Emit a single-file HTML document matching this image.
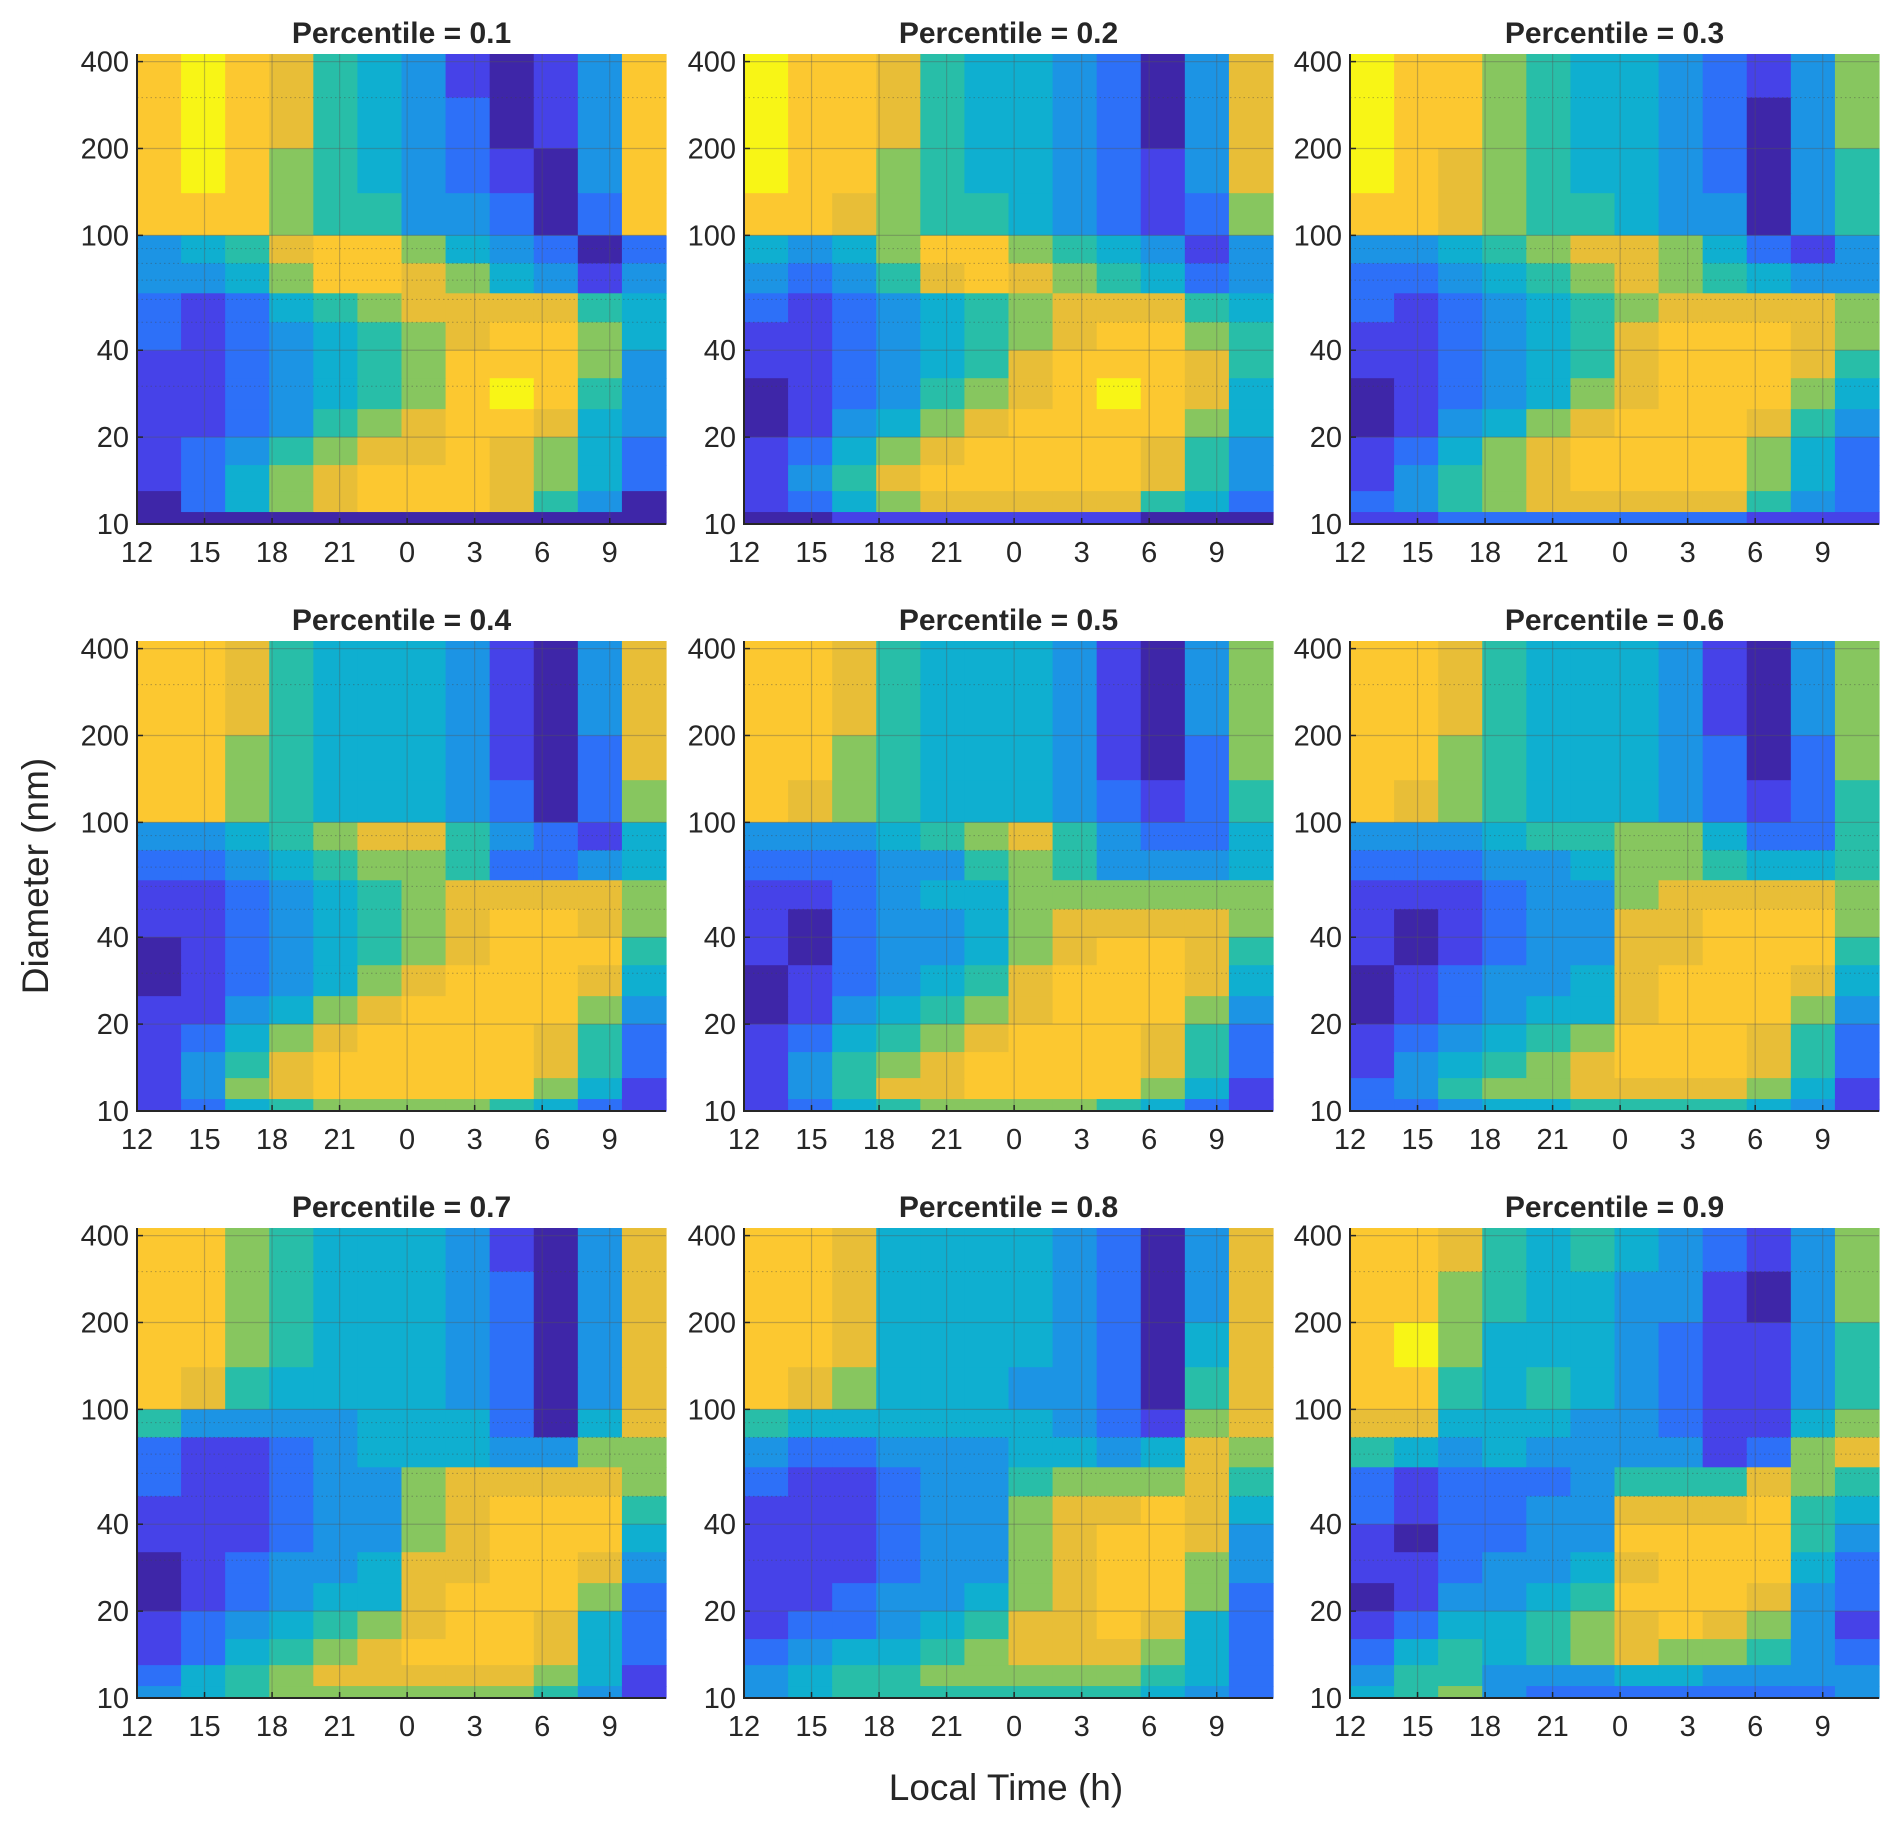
<!DOCTYPE html>
<html><head><meta charset="utf-8"><style>
body{margin:0;background:#fff;width:1892px;height:1828px;overflow:hidden}
svg{display:block}
text{font-family:"Liberation Sans",Arial,sans-serif;fill:#262626}
</style></head><body>
<svg id="fig" width="1892" height="1828"></svg>
<script>
// ---- data ----
const titles = ["Percentile = 0.1","Percentile = 0.2","Percentile = 0.3","Percentile = 0.4","Percentile = 0.5","Percentile = 0.6","Percentile = 0.7","Percentile = 0.8","Percentile = 0.9"];
const diameterEdges = [425,300,200,140,100,80,63,50,40,32,25,20,16,13,11,10];
const timeStart = 12, timeEnd = 35.5;
const xTickValues = [12,15,18,21,24,27,30,33];
const xTickLabels = ["12","15","18","21","0","3","6","9"];
const yTickValues = [10,20,40,100,200,400];
const yTickLabels = ["10","20","40","100","200","400"];
const yMinorValues = [30,50,60,70,80,90,300];
const p01 = ["898754310138","898754320138","898654321038","888655332028","345788643202","334688764313","212456777754","212345678864","112345688863","112345689853","112356788743","123567787642","124678887642","024678887530","000000000000"];
const p02 = ["988754432037","988754432037","988654432137","887655432126","434688654313","323578765423","212345677754","112345678865","112345788875","012356789874","013467888864","124678888753","135788888753","124677777542","001111111000"];
const p03 = ["988654432136","988654432036","987654432035","887655433035","334567764213","223456765433","212345677776","112345788876","112345788875","012346788864","013467888753","124678888642","135678888642","235677777532","112222222111"];
const p04 = ["887544431037","887544431037","886544431027","886544432026","334567753214","223456652234","112345677776","112345678876","012345678885","012346788874","113467888863","124678888752","135788888752","136788888641","124566665421"];
const p05 = ["887544431036","887544431036","886544431026","876544432125","333456753224","222335653334","112344666666","102334677776","102334678875","012345788874","013456788863","124567888752","135678888752","135778888641","124566665421"];
const p06 = ["887544431036","887544431036","886544432026","876544432125","333455664225","222334665445","111233677776","101233778886","101233778885","012334788874","012344788863","123456888752","134567888752","235667777641","223445555431"];
const p07 = ["886544431037","886544432037","886544432037","875444432037","533334442047","211234443366","211233677776","111233678885","111233678884","012334778873","012344788862","123456788742","124567888742","245677777641","345666666531"];
const p08 = ["887444432037","887444432037","887444432047","876444332057","544444432167","322333443476","211233566675","111233677874","111233678873","111233678863","112334678862","122345778742","234456777642","345566666542","345555555432"];
const p09 = ["887545432136","886544331036","896444321135","885454321135","774443321146","543433331267","212223555765","212233777854","102233888853","112334788842","013345888732","124456787631","245456766532","355333443333","456322222223"];
const panels = [p01,p02,p03,p04,p05,p06,p07,p08,p09];
// parula-like colormap (levels 0..9)
const cmap = [[62,38,168],[70,66,232],[45,112,248],[28,148,228],[15,175,208],[40,190,168],[135,198,95],[232,190,55],[252,200,48],[248,245,22]];

// ---- layout ----
const NS = "http://www.w3.org/2000/svg";
const svg = document.getElementById("fig");
const colLeft = [137,744,1350], rowTop = [54,641,1228];
const PW = 529, PH = 470;
const dMin = 10, dMax = 425;
function mk(tag, attrs, parent){const e=document.createElementNS(NS,tag);for(const k in attrs)e.setAttribute(k,attrs[k]);(parent||svg).appendChild(e);return e;}
function xScale(t,x0){return x0 + (t-timeStart)/(timeEnd-timeStart)*PW;}
function yScale(d,y0){return y0 + PH - (Math.log10(d)-Math.log10(dMin))/(Math.log10(dMax)-Math.log10(dMin))*PH;}

panels.forEach((data,pi)=>{
  const x0 = colLeft[pi%3], y0 = rowTop[Math.floor(pi/3)];
  const g = mk("g",{});
  
  
  const nCols = data[0].length;
  const dt = (timeEnd-timeStart)/nCols;
  data.forEach((row,ri)=>{
    const yt = yScale(diameterEdges[ri],y0), yb = yScale(diameterEdges[ri+1],y0);
    for(let ci=0;ci<nCols;ci++){
      const v = +row[ci]; const c = cmap[v];
      const xa = xScale(timeStart+ci*dt,x0), xb = xScale(timeStart+(ci+1)*dt,x0);
      const r = mk("rect",{x:xa.toFixed(2),y:yt.toFixed(2),width:(xb-xa+0.6).toFixed(2),height:(yb-yt+0.6).toFixed(2),fill:`rgb(${c[0]},${c[1]},${c[2]})`},g);
      
      
    }
  });
  // grid
  xTickValues.forEach(t=>{const x=xScale(t,x0);mk("line",{x1:x,x2:x,y1:y0,y2:y0+PH,stroke:"#555","stroke-opacity":0.35,"stroke-width":1.2},g);});
  yTickValues.forEach(d=>{const y=yScale(d,y0);mk("line",{x1:x0,x2:x0+PW,y1:y,y2:y,stroke:"#555","stroke-opacity":0.35,"stroke-width":1.2},g);});
  yMinorValues.forEach(d=>{const y=yScale(d,y0);mk("line",{x1:x0,x2:x0+PW,y1:y,y2:y,stroke:"#444","stroke-opacity":0.4,"stroke-width":1,"stroke-dasharray":"1.5 3"},g);});
  // axes
  const ax = mk("path",{d:`M${x0},${y0} L${x0},${y0+PH} L${x0+PW},${y0+PH}`,fill:"none",stroke:"#262626","stroke-width":2});
  
  
  xTickValues.forEach((t,i)=>{
    const x=xScale(t,x0);
    mk("line",{x1:x,x2:x,y1:y0+PH,y2:y0+PH-6,stroke:"#262626","stroke-width":1.5});
    const tx=mk("text",{x:x,y:y0+PH+38,"font-size":29,"text-anchor":"middle"});
    tx.textContent=xTickLabels[i];
    
    
  });
  yTickValues.forEach((d,i)=>{
    const y=yScale(d,y0);
    mk("line",{x1:x0,x2:x0+6,y1:y,y2:y,stroke:"#262626","stroke-width":1.5});
    const tx=mk("text",{x:x0-8,y:y+10,"font-size":29,"text-anchor":"end"});
    tx.textContent=yTickLabels[i];
    
    
  });
  const tt=mk("text",{x:x0+PW/2,y:y0-11,"font-size":30,"font-weight":"bold","text-anchor":"middle",fill:"#000"});
  tt.textContent=titles[pi];
  
  
});
const yl=mk("text",{x:0,y:0,"font-size":37,"text-anchor":"middle",transform:"translate(48,876) rotate(-90)"});
yl.textContent="Diameter (nm)";


const xl=mk("text",{x:1006,y:1800,"font-size":37,"text-anchor":"middle"});
xl.textContent="Local Time (h)";


</script>
</body></html>
